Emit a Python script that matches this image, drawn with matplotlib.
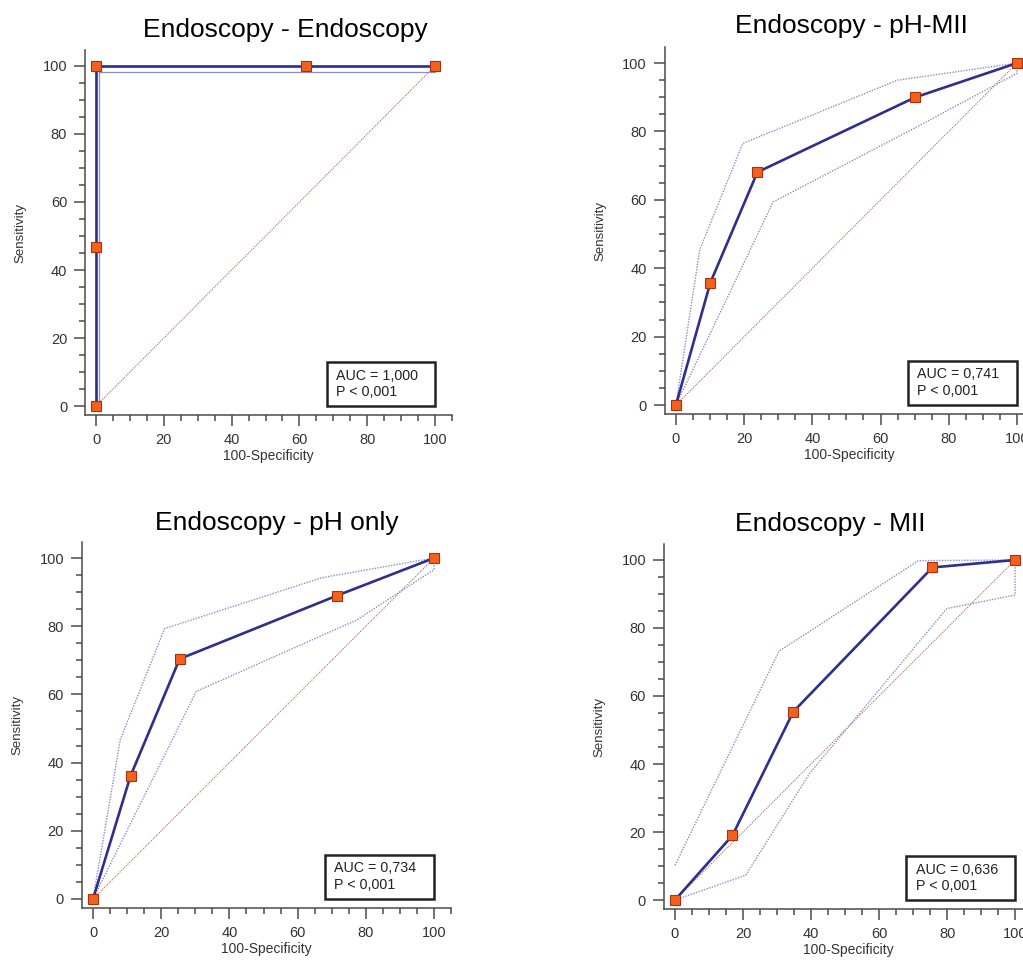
import matplotlib
matplotlib.use('Agg')
import matplotlib.pyplot as plt
from matplotlib.ticker import MultipleLocator
from matplotlib.patches import Rectangle

plt.rcParams['font.family'] = ['Liberation Sans', 'DejaVu Sans']

# ---------------- data ----------------
titles = ["Endoscopy - Endoscopy", "Endoscopy - pH-MII",
          "Endoscopy - pH only", "Endoscopy - MII"]
auc_text = ["AUC = 1,000", "AUC = 0,741", "AUC = 0,734", "AUC = 0,636"]
p_text = ["P < 0,001", "P < 0,001", "P < 0,001", "P < 0,001"]

# ROC points (100-Specificity, Sensitivity)
roc1_x = [0, 0, 0, 61.8, 100]
roc1_y = [0, 46.7, 100, 100, 100]
roc2_x = [0, 10.1, 23.9, 70.2, 100]
roc2_y = [0, 35.8, 68.1, 90.0, 100]
roc3_x = [0, 11.0, 25.4, 71.6, 100]
roc3_y = [0, 36.1, 70.4, 89.0, 100]
roc4_x = [0, 16.9, 34.8, 75.7, 100]
roc4_y = [0, 19.0, 55.4, 97.8, 100]

# confidence bounds
up1_x = [0, 0, 100]
up1_y = [0, 100, 100]
lo1_x = [0, 1.0, 1.0, 100, 100]
lo1_y = [0, 0, 98.3, 98.3, 100]

up2_x = [0, 7.0, 19.6, 65.0, 100]
up2_y = [0, 45.5, 76.5, 95.0, 100]
lo2_x = [0, 28.5, 70.0, 100, 100]
lo2_y = [0, 59.4, 81.0, 97.0, 100]

up3_x = [0, 8.0, 21.0, 67.0, 100]
up3_y = [0, 46.8, 79.3, 94.2, 100]
lo3_x = [0, 30.3, 77.3, 100, 100]
lo3_y = [0, 60.9, 81.8, 96.6, 100]

up4_x = [0, 30.6, 71.6, 100]
up4_y = [10.2, 73.2, 99.8, 100]
lo4_x = [0, 20.8, 39.7, 79.9, 100, 100]
lo4_y = [0, 7.3, 37.4, 85.7, 89.7, 100]

diag_x = [0, 100]
diag_y = [0, 100]

panels = [
    (roc1_x, roc1_y, up1_x, up1_y, lo1_x, lo1_y),
    (roc2_x, roc2_y, up2_x, up2_y, lo2_x, lo2_y),
    (roc3_x, roc3_y, up3_x, up3_y, lo3_x, lo3_y),
    (roc4_x, roc4_y, up4_x, up4_y, lo4_x, lo4_y),
]

# ---------------- layout (pixels) ----------------
W, H = 1023, 964
# left, top, width, height in pixels
ax_px = [
    (85.2, 50.0, 366.8, 365.2),
    (665.0, 47.0, 369.0, 367.3),
    (82.1, 542.0, 369.0, 366.2),
    (664.1, 544.0, 368.0, 365.2),
]
title_px = [(285, 37), (851, 33), (277, 530), (830, 531)]

fig = plt.figure(figsize=(W / 100, H / 100), dpi=100)
fig.patch.set_facecolor('white')

main_col = '#2e2e8e'
ci_col = '#8a8ccc'
diag_col = '#b86a6a'
spine_col = '#4a4a4a'
txt_col = '#333333'

for i, (l, t, w, h) in enumerate(ax_px):
    ax = fig.add_axes([l / W, (H - t - h) / H, w / W, h / H])
    rx, ry, ux, uy, lx, ly = panels[i]
    ax.set_xlim(-3.2, 105)
    ax.set_ylim(-2.7, 104.7)

    ax.plot(diag_x, diag_y, color=diag_col, lw=0.8, ls=(0, (1, 1)), zorder=1)
    ci_ls = '-' if i == 0 else (0, (1, 1))
    ci_lw = 0.9 if i == 0 else 1.0
    ax.plot(ux, uy, color=ci_col, lw=ci_lw, ls=ci_ls, zorder=2)
    ax.plot(lx, ly, color=ci_col, lw=ci_lw, ls=ci_ls, zorder=2)
    ax.plot(rx, ry, color=main_col, lw=1.9, zorder=3)
    ax.plot(rx, ry, ls='none', marker='s', ms=7.0, mfc='#f4611d',
            mec='#a8300c', mew=0.8, zorder=4, clip_on=False)

    # AUC box
    ax.add_patch(Rectangle((68, 0), 32, 13, fill=True, fc='white',
                           ec='#222222', lw=1.8, zorder=5))
    ax.text(70.8, 6.5, auc_text[i] + "\n" + p_text[i], ha='left', va='center',
            fontsize=10.3, color='#222222', linespacing=1.25, zorder=6)

    for s in ['top', 'right']:
        ax.spines[s].set_visible(False)
    for s in ['left', 'bottom']:
        ax.spines[s].set_color(spine_col)
        ax.spines[s].set_linewidth(1.1)

    ax.xaxis.set_major_locator(MultipleLocator(20))
    ax.xaxis.set_minor_locator(MultipleLocator(5))
    ax.yaxis.set_major_locator(MultipleLocator(20))
    ax.yaxis.set_minor_locator(MultipleLocator(5))
    ax.tick_params(which='major', length=8, width=1.1, color=spine_col,
                   labelsize=10.5, labelcolor=txt_col, pad=5)
    ax.tick_params(which='minor', length=4.5, width=1.1, color=spine_col)

    ax.set_xlabel("100-Specificity", fontsize=10, color=txt_col)
    ax.set_ylabel("Sensitivity", fontsize=9.5, color=txt_col)
    ax.xaxis.label.set_va('center')
    ax.yaxis.label.set_va('center')
    ax.xaxis.set_label_coords(0.5, -41 / h)
    ax.yaxis.set_label_coords(-65 / w, 0.5)

    tx, ty = title_px[i]
    fig.text(tx / W, (H - ty) / H, titles[i], ha='center', va='baseline',
             fontsize=19, color='black')

fig.savefig('out.png', dpi=100, facecolor='white')
